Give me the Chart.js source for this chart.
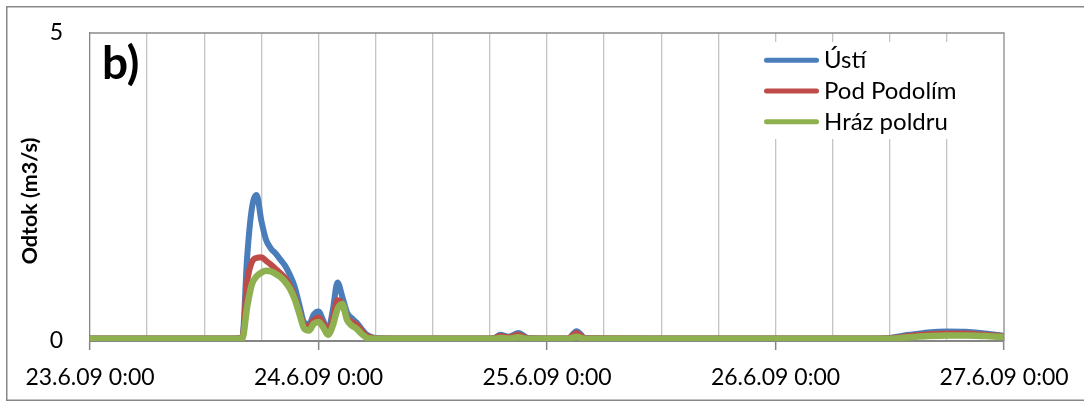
<!DOCTYPE html>
<html>
<head>
<meta charset="utf-8">
<script src="https://cdn.jsdelivr.net/npm/chart.js@4/dist/chart.umd.min.js"></script>
<style>
  html, body { margin: 0; padding: 0; background: #fff; }
  #wrap { width: 1084px; height: 403px; }
</style>
</head>
<body>
<div id="wrap"><canvas id="c" width="1084" height="403"></canvas></div>
<script>
// Time in hours from 23.6.09 0:00
const hours = [0, 12, 15, 16, 16.5, 17, 17.5, 18, 18.5, 19, 19.5, 20, 20.5, 21, 21.5, 22, 22.5, 23, 23.5, 24,
  24.5, 25, 25.5, 26, 26.5, 27, 27.5, 28, 28.5, 29, 29.5, 30, 36, 42, 42.5, 43.1, 44, 45, 46,
  50.2, 51.1, 52, 60, 72, 80, 83.5, 86, 88, 90, 92, 94, 96];

// Discharge (m3/s)
const usti = [0.04, 0.04, 0.04, 0.06, 1.35, 2.15, 2.37, 1.95, 1.64, 1.5, 1.42, 1.32, 1.22, 1.07, 0.88, 0.58, 0.3, 0.27, 0.43, 0.48,
  0.33, 0.17, 0.5, 0.95, 0.72, 0.46, 0.37, 0.3, 0.2, 0.11, 0.07, 0.05, 0.04, 0.04, 0.05, 0.1, 0.07, 0.13, 0.05,
  0.04, 0.16, 0.05, 0.04, 0.04, 0.04, 0.045, 0.1, 0.14, 0.155, 0.15, 0.12, 0.085];

const podPodolim = [0.04, 0.04, 0.04, 0.05, 0.95, 1.28, 1.35, 1.36, 1.3, 1.24, 1.17, 1.1, 1.02, 0.9, 0.72, 0.47, 0.26, 0.24, 0.34, 0.38,
  0.28, 0.15, 0.36, 0.66, 0.6, 0.38, 0.31, 0.26, 0.17, 0.09, 0.06, 0.04, 0.04, 0.04, 0.045, 0.08, 0.06, 0.1, 0.045,
  0.04, 0.13, 0.045, 0.04, 0.04, 0.04, 0.04, 0.08, 0.11, 0.12, 0.12, 0.1, 0.075];

const hrazPoldru = [0.035, 0.035, 0.035, 0.04, 0.55, 0.92, 1.05, 1.11, 1.14, 1.13, 1.09, 1.04, 0.96, 0.85, 0.68, 0.44, 0.2, 0.17, 0.28, 0.31,
  0.22, 0.1, 0.25, 0.52, 0.6, 0.34, 0.25, 0.2, 0.12, 0.06, 0.04, 0.035, 0.035, 0.035, 0.035, 0.05, 0.04, 0.06, 0.035,
  0.035, 0.07, 0.035, 0.035, 0.035, 0.035, 0.035, 0.06, 0.08, 0.09, 0.09, 0.08, 0.065];

const seriesNames = ['Ústí', 'Pod Podolím', 'Hráz poldru'];
const seriesColors = ['#4a7ebb', '#be4b48', '#8eb04e'];
const dayLabels = ['23.6.09 0:00', '24.6.09 0:00', '25.6.09 0:00', '26.6.09 0:00', '27.6.09 0:00'];
const yMin = 0, yMax = 5;
const panelLabel = 'b)';
const yTitle = 'Odtok (m3/s)';

const FONT = 'Lato, "Open Sans", sans-serif';

function points(vals) { return hours.map((h, i) => ({ x: h, y: vals[i] })); }

const decor = {
  id: 'decor',
  beforeDraw(chart) {
    const ctx = chart.ctx;
    ctx.save();
    ctx.fillStyle = '#fff';
    ctx.fillRect(0, 0, chart.width, chart.height);
    ctx.strokeStyle = '#878787';
    ctx.lineWidth = 1.5;
    ctx.strokeRect(6.75, 6.75, chart.width + 20, 393.5);
    ctx.restore();
  },
  afterDatasetsDraw(chart) {
    const ctx = chart.ctx;
    const a = chart.chartArea;
    ctx.save();
    // top and right edges of the plot area
    ctx.strokeStyle = '#8a8a8a';
    ctx.lineWidth = 1.3;
    ctx.beginPath();
    ctx.moveTo(a.left, a.top);
    ctx.lineTo(a.right, a.top);
    ctx.lineTo(a.right, a.bottom);
    ctx.stroke();

    // legend
    ctx.fillStyle = '#fff';
    ctx.fillRect(758, 42, 217, 97);
    const baselines = [68.3, 99, 129.7];
    ctx.font = '24px ' + FONT;
    ctx.textAlign = 'left';
    ctx.textBaseline = 'alphabetic';
    seriesNames.forEach((name, i) => {
      const yLine = baselines[i] - 8;
      ctx.strokeStyle = seriesColors[i];
      ctx.lineWidth = 5;
      ctx.lineCap = 'round';
      ctx.beginPath();
      ctx.moveTo(766.5, yLine);
      ctx.lineTo(816.5, yLine);
      ctx.stroke();
      ctx.fillStyle = '#000';
      ctx.fillText(name, 824, baselines[i]);
    });

    // panel label
    ctx.fillStyle = '#000';
    ctx.font = 'bold 46px ' + FONT;
    ctx.fillText(panelLabel, 102, 79);

    // y axis title
    ctx.translate(37, 201);
    ctx.rotate(-Math.PI / 2);
    ctx.textAlign = 'center';
    ctx.font = 'bold 21.5px ' + FONT;
    ctx.fillText(yTitle, 0, 0);
    ctx.restore();
  }
};

const mk = (i, vals, width, order) => ({
  label: seriesNames[i],
  data: points(vals),
  borderColor: seriesColors[i],
  backgroundColor: seriesColors[i],
  borderWidth: width,
  pointRadius: 0,
  cubicInterpolationMode: 'monotone',
  borderJoinStyle: 'round',
  borderCapStyle: 'round',
  fill: false,
  order: order
});

new Chart(document.getElementById('c'), {
  type: 'line',
  data: {
    datasets: [
      mk(0, usti, 6, 3),
      mk(1, podPodolim, 6, 2),
      mk(2, hrazPoldru, 6.5, 1)
    ]
  },
  options: {
    responsive: false,
    devicePixelRatio: 1,
    animation: false,
    layout: { padding: { left: 0, top: 33, right: 80, bottom: 0 } },
    plugins: { legend: { display: false }, tooltip: { enabled: false } },
    scales: {
      x: {
        type: 'linear',
        min: 0,
        max: 96,
        afterFit(scale) { scale.height = 62; },
        ticks: {
          stepSize: 6,
          autoSkip: false,
          maxRotation: 0,
          minRotation: 0,
          padding: 14,
          color: '#000',
          font: { family: FONT, size: 23 },
          callback: v => (v % 24 === 0 ? dayLabels[v / 24] : '')
        },
        grid: {
          color: c => (c.tick && (c.tick.value === 0 || c.tick.value === 96)) ? 'rgba(0,0,0,0)' : '#c4c4c4',
          lineWidth: 1.3,
          tickLength: 9,
          tickWidth: 1.5,
          tickColor: c => (c.tick && c.tick.value % 24 === 0) ? '#868686' : 'rgba(0,0,0,0)'
        },
        border: { display: true, color: '#868686', width: 2 }
      },
      y: {
        min: yMin,
        max: yMax,
        afterFit(scale) {
          scale.width = 90;
          scale.paddingTop = 0;
          scale.paddingBottom = 0;
        },
        ticks: {
          stepSize: 5,
          padding: 27,
          color: '#000',
          font: { family: FONT, size: 23 }
        },
        grid: { display: false, drawTicks: false },
        border: { display: true, color: '#868686', width: 1.3 }
      }
    }
  },
  plugins: [decor]
});
</script>
</body>
</html>
